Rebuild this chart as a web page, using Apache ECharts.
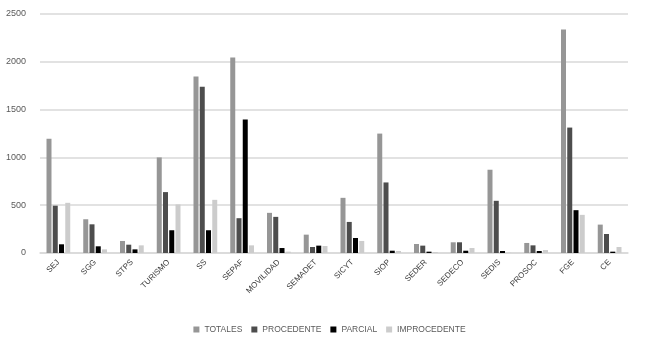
<!DOCTYPE html>
<html>
<head>
<meta charset="utf-8">
<script src="https://cdn.jsdelivr.net/npm/echarts@6/dist/echarts.min.js"></script>
<style>
  html, body { margin: 0; padding: 0; background: #fff; }
  #chart { width: 659px; height: 349px; }
</style>
</head>
<body>
<div id="chart"></div>
<script>
  const categories = ['SEJ', 'SGG', 'STPS', 'TURISMO', 'SS', 'SEPAF', 'MOVILIDAD', 'SEMADET',
    'SICYT', 'SIOP', 'SEDER', 'SEDECO', 'SEDIS', 'PROSOC', 'FGE', 'CE']
  const totales      = [1195, 353, 126, 1000, 1845, 2045, 420, 192, 577, 1249, 94, 112, 871, 105, 2338, 297]
  const procedente   = [495, 300, 87, 637, 1738, 364, 378, 63, 325, 738, 77, 112, 546, 80, 1312, 199]
  const parcial      = [91, 70, 38, 238, 238, 1396, 52, 77, 157, 24, 14, 24, 21, 21, 448, 14]
  const improcedente = [525, 38, 80, 508, 556, 80, 14, 73, 126, 21, 10, 52, 3, 31, 399, 63]
  const yTicks = [0, 500, 1000, 1500, 2000, 2500]

  const names = ['TOTALES', 'PROCEDENTE', 'PARCIAL', 'IMPROCEDENTE']
  const values = [totales, procedente, parcial, improcedente]
  const colors = ['#969696', '#4d4d4d', '#000000', '#cccccc']
  const font = '"Liberation Sans", Arial, sans-serif'

  const mChart = echarts.init(document.getElementById('chart'))
  const option = {
    animation: false,
    textStyle: { fontFamily: font },
    color: colors,
    legend: {
      bottom: 10,
      left: 'center',
      itemWidth: 6,
      itemHeight: 6,
      itemGap: 9,
      icon: 'rect',
      textStyle: { color: '#595959', fontSize: 8.5, fontFamily: font },
      data: names
    },
    grid: {
      left: 40,
      right: 31,
      top: 14,
      bottom: 96
    },
    xAxis: {
      type: 'category',
      data: categories,
      axisLine: { lineStyle: { color: '#d9d9d9', width: 1.5 } },
      axisTick: { show: false },
      axisLabel: {
        interval: 0,
        rotate: 45,
        color: '#404040',
        fontSize: 8,
        margin: 8,
        fontFamily: font
      }
    },
    yAxis: {
      type: 'value',
      min: yTicks[0],
      max: yTicks[yTicks.length - 1],
      interval: 500,
      axisLine: { show: false },
      axisTick: { show: false },
      axisLabel: { color: '#595959', fontSize: 9, margin: 14, formatter: v => String(v) },
      splitLine: { lineStyle: { color: '#d9d9d9', width: 1.5 } }
    },
    series: names.map((n, i) => ({
      name: n,
      type: 'bar',
      data: values[i],
      barWidth: 5,
      barGap: '25%'
    }))
  }
  mChart.setOption(option)
</script>
</body>
</html>
